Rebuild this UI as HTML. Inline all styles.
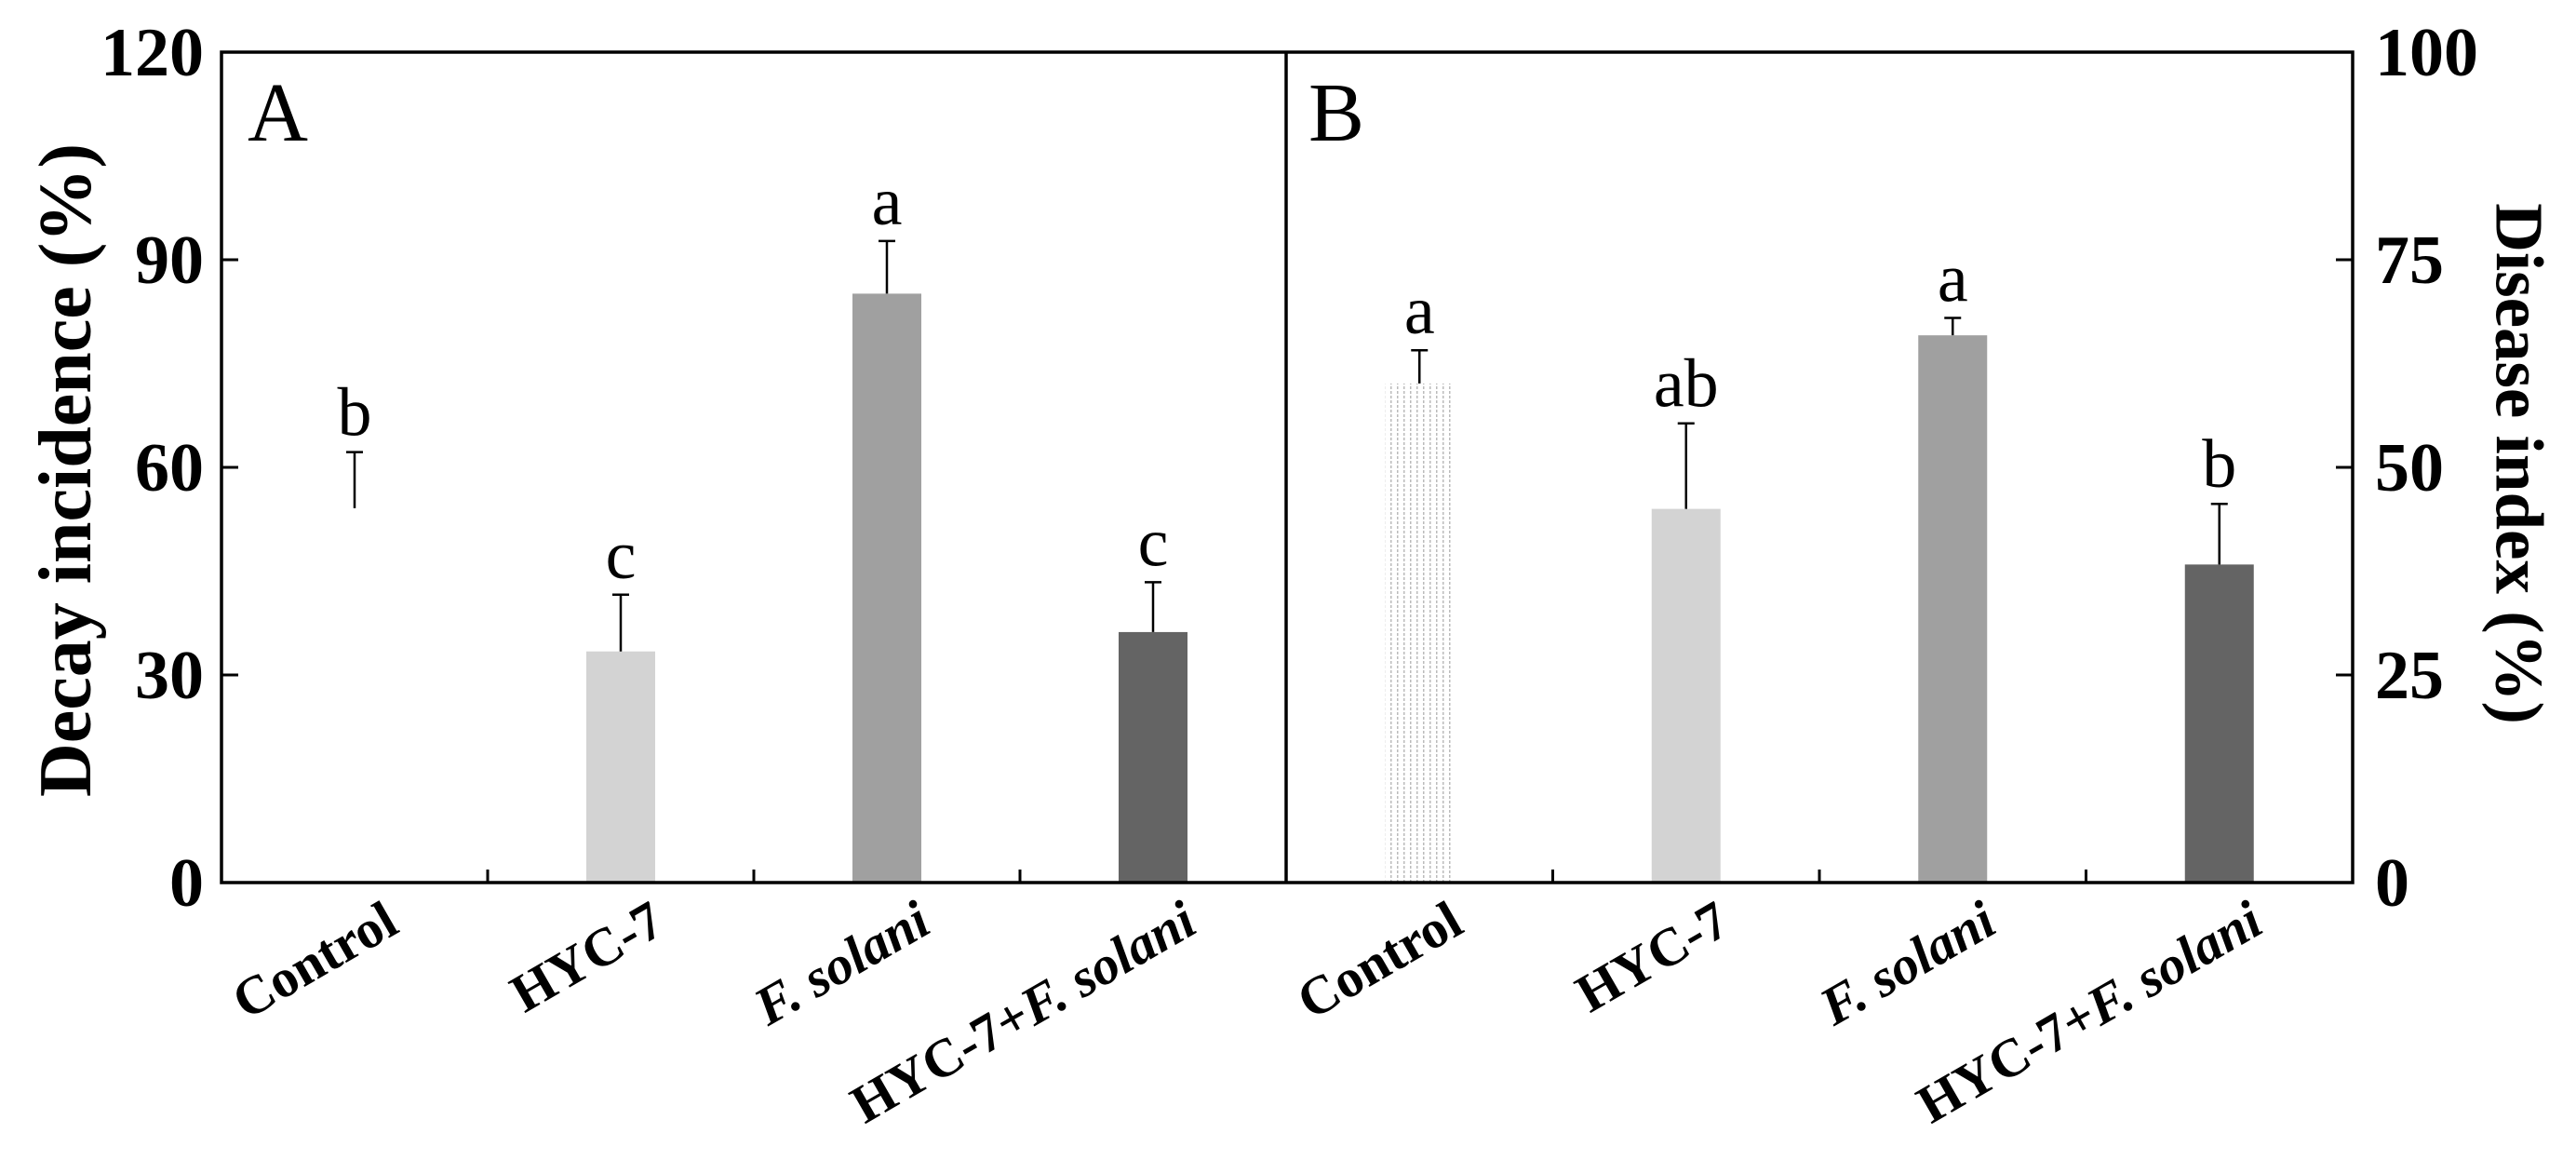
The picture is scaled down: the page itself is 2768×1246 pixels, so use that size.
<!DOCTYPE html>
<html><head><meta charset="utf-8"><style>
html,body{margin:0;padding:0;background:#fff}
svg{display:block;font-family:"Liberation Serif",serif}
</style></head><body>
<svg id="chart" width="2768" height="1246" viewBox="0 0 2768 1246" xmlns="http://www.w3.org/2000/svg">
<defs>
<pattern id="dots" width="7" height="5" patternUnits="userSpaceOnUse">
<rect x="3" y="0" width="1.5" height="3" fill="#bbb"/>
</pattern>
</defs>
<g id="root"></g>
</svg>
<script>
const categories = ["Control", "HYC-7", "F. solani", "HYC-7+F. solani"];
const decayValues = [54.1, 33.4, 85.1, 36.2];
const decayErrors = [8.1, 8.2, 7.6, 7.2];
const decayLetters = ["b", "c", "a", "c"];
const diseaseValues = [60.1, 45.0, 65.9, 38.3];
const diseaseErrors = [4.0, 10.3, 2.1, 7.3];
const diseaseLetters = ["a", "ab", "a", "b"];
const leftTicks = [0, 30, 60, 90, 120];
const rightTicks = [0, 25, 50, 75, 100];
const fills = ["none", "#d3d3d3", "#a0a0a0", "#646464"];

const NS = "http://www.w3.org/2000/svg";
const root = document.getElementById('root');
const plotTop = 56, plotBottom = 948, xA = 238, xM = 1382, xB = 2528;
function mk(tag, attrs, parent, text) {
  const e = document.createElementNS(NS, tag);
  for (const k in attrs) e.setAttribute(k, attrs[k]);
  if (text !== undefined) e.textContent = text;
  (parent || root).appendChild(e);
  return e;
}
function yA(v) { return plotBottom - (v / 120) * (plotBottom - plotTop); }
function yB(v) { return plotBottom - (v / 100) * (plotBottom - plotTop); }

function panel(x0, x1, vals, errs, letters, yf, isB) {
  const w = (x1 - x0) / categories.length;
  const g = mk('g', {});
  
  
  categories.forEach((c, i) => {
    const cx = x0 + w * (i + 0.5);
    const bw = 74;
    let fill = fills[i];
    if (i === 0 && isB) fill = 'url(#dots)';
    const r = mk('rect', {x: cx - bw / 2, y: yf(vals[i]), width: bw, height: plotBottom - yf(vals[i]), fill: fill === 'none' ? '#fff' : fill}, g);
    
    
    const ye = yf(vals[i] + errs[i]);
    const el = mk('path', {d: `M${cx} ${yf(vals[i])}V${ye}M${cx - 9} ${ye}H${cx + 9}`, stroke: '#000', 'stroke-width': 2.5, fill: 'none'}, g);
    
    
    const t = mk('text', {x: cx, y: ye - 18, 'text-anchor': 'middle', 'font-size': 74}, g, letters[i]);
    
    
    const lx = cx + 50, ly = 1000;
    const lab = mk('text', {x: lx, y: ly, 'text-anchor': 'end', 'font-size': 58, 'font-weight': 'bold', transform: `rotate(-30 ${lx} ${ly})`}, g);
    
    
    if (c === "F. solani") { mk('tspan', {'font-style': 'italic'}, lab, 'F. solani'); }
    else if (c === "HYC-7+F. solani") { mk('tspan', {}, lab, 'HYC-7+'); mk('tspan', {'font-style': 'italic'}, lab, 'F. solani'); }
    else lab.textContent = c;
    if (i > 0) {
      const tk = mk('line', {x1: x0 + w * i, x2: x0 + w * i, y1: plotBottom, y2: plotBottom - 14, stroke: '#000', 'stroke-width': 3}, g);
      
      
    }
  });
}
panel(xA, xM, decayValues, decayErrors, decayLetters, yA, false);
panel(xM, xB, diseaseValues, diseaseErrors, diseaseLetters, yB, true);

const frame = mk('path', {d: `M${xA} ${plotTop}H${xB}V${plotBottom}H${xA}Z M${xM} ${plotTop}V${plotBottom}`, stroke: '#000', 'stroke-width': 3.5, fill: 'none'});



leftTicks.forEach(v => {
  const y = yA(v);
  const l = mk('line', {x1: xA, x2: xA + 18, y1: y, y2: y, stroke: '#000', 'stroke-width': 3});
  
  
  const t = mk('text', {x: 219, y: y + 25, 'text-anchor': 'end', 'font-size': 74, 'font-weight': 'bold'}, root, String(v));
  
  
});
rightTicks.forEach(v => {
  const y = yB(v);
  const l = mk('line', {x1: xB, x2: xB - 18, y1: y, y2: y, stroke: '#000', 'stroke-width': 3});
  
  
  const t = mk('text', {x: 2552, y: y + 25, 'text-anchor': 'start', 'font-size': 74, 'font-weight': 'bold'}, root, String(v));
  
  
});
const lt = mk('text', {x: 71, y: 505, 'text-anchor': 'middle', 'dominant-baseline': 'central', 'font-size': 80, 'font-weight': 'bold', transform: 'rotate(-90 71 505)'}, root, 'Decay incidence (%)');


const rt = mk('text', {x: 2707, y: 498, 'text-anchor': 'middle', 'dominant-baseline': 'central', 'font-size': 73, 'font-weight': 'bold', transform: 'rotate(90 2707 498)'}, root, 'Disease index (%)');


const pa = mk('text', {x: 266, y: 151, 'font-size': 90}, root, 'A');


const pb = mk('text', {x: 1406, y: 151, 'font-size': 90}, root, 'B');


</script>
</body></html>
